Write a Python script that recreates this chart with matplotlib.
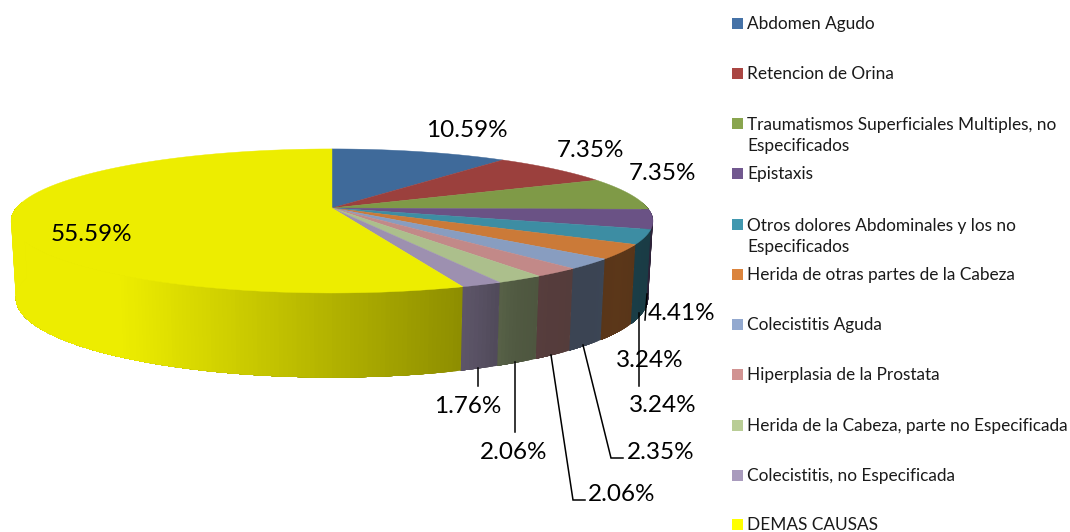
import numpy as np
import matplotlib
matplotlib.use("Agg")
import matplotlib.pyplot as plt
from matplotlib.patches import Rectangle

plt.rcParams["font.family"] = ["Lato", "DejaVu Sans"]

categories = [
    "Abdomen Agudo",
    "Retencion de Orina",
    "Traumatismos Superficiales Multiples, no\nEspecificados",
    "Epistaxis",
    "Otros dolores Abdominales y los no\nEspecificados",
    "Herida de otras partes de la Cabeza",
    "Colecistitis Aguda",
    "Hiperplasia de la Prostata",
    "Herida de la Cabeza, parte no Especificada",
    "Colecistitis, no Especificada",
    "DEMAS CAUSAS",
]
values = [10.59, 7.35, 7.35, 4.41, 3.24, 3.24, 2.35, 2.06, 2.06, 1.76, 55.59]

legend_colors = ["#4572A7", "#AA4643", "#89A54E", "#71588F", "#4198AF", "#DB843D",
                 "#93A9CF", "#D19392", "#B9CD96", "#A99BBD", "#FFFF00"]
top_colors = ["#3F6A9A", "#9B403D", "#7F9A47", "#6A5285", "#3D8DA3", "#CB7A38",
              "#889DC0", "#C28988", "#ACBF8C", "#9D90B0", "#EDED00"]

legend_y = [23, 73, 123, 173, 224, 274, 324, 374, 425, 475, 524]
label_pos = [(467, 130.5), (590, 150.5), (662, 173.5), (682, 313.5), (650, 360.5), (663, 405.5),
             (661, 452.5), (622, 494.5), (514, 452.5), (468, 406.5), (91, 234.5)]
leaders = [
    ([647, 645], [294, 320]),
    ([639, 639], [313, 386]),
    ([583, 611, 623], [345, 458, 458]),
    ([551, 573, 585], [355, 500, 500]),
    ([515, 515], [362, 432]),
    ([478, 478], [368, 386]),
]

# pie geometry in figure pixels, a tilted circle seen in perspective
cx, cy = 332, 208
a, b, k = 315.7, 69.7, 0.18
shade_x = [120, 461, 480, 515, 550, 590, 620, 652]
shade_v = [1.0, 0.60, 0.56, 0.47, 0.44, 0.43, 0.45, 0.42]


def top_xy(theta):
    x, y = np.sin(theta), np.cos(theta)
    w = 1 + k * y
    return a * x / w, b * y / w


def face(theta):
    x, y = top_xy(theta)
    return cx + x, cy - y


def bottom(theta):
    x, y = top_xy(theta)
    return cx + 0.985 * x, cy - (1.1 * y - 76)


def darker(color, f):
    return tuple(c * f for c in matplotlib.colors.to_rgb(color))


fig = plt.figure(figsize=(10.7, 5.32), dpi=100)
ax = fig.add_axes([0, 0, 1, 1])
ax.set_xlim(0, 1070)
ax.set_ylim(532, 0)
ax.axis("off")

edges = np.radians(np.concatenate([[0], np.cumsum(values)]) * 3.6)

# outer wall first, only the part facing the viewer
# each strip runs to the end of the slice, the next one paints over it so no seams show
for i, col in enumerate(top_colors):
    t0, t1 = max(edges[i], np.radians(85)), min(edges[i + 1], np.radians(275))
    if t1 <= t0:
        continue
    n = max(int(np.degrees(t1 - t0) * 1.5), 1)
    steps = np.linspace(t0, t1, n + 1)
    for j in range(n):
        ts = np.linspace(steps[j], t1, n - j + 1)
        xt, yt = face(ts)
        xb, yb = bottom(ts)
        mid = face(np.array([steps[j], steps[j + 1]]))[0].mean()
        c = darker(col, np.interp(mid, shade_x, shade_v))
        ax.fill(np.r_[xt, xb[::-1]], np.r_[yt, yb[::-1]], color=c, lw=0, zorder=1)

# top face
for i, col in enumerate(top_colors):
    ts = np.linspace(edges[i], edges[i + 1], 80)
    x, y = face(ts)
    ax.fill(np.r_[cx, x], np.r_[cy, y], color=col, lw=0.3, zorder=2)

for xs, ys in leaders:
    ax.plot(xs, ys, color="black", lw=1.1, zorder=3, solid_joinstyle="miter")

for v, (x, y) in zip(values, label_pos):
    ax.text(x, y, f"{v:.2f}%", fontsize=17.5, ha="center", va="center", color="black", zorder=4)

for name, col, y in zip(categories, legend_colors, legend_y):
    ax.add_patch(Rectangle((732, y - 5.5), 11, 11, color=col, lw=0))
    two = "\n" in name
    ax.text(747, y + (11.5 if two else 0) + 1, name, fontsize=12.4, ha="left", va="center",
            color="#1a1a1a", linespacing=1.38)

fig.savefig("out.png", dpi=100, facecolor="white")
